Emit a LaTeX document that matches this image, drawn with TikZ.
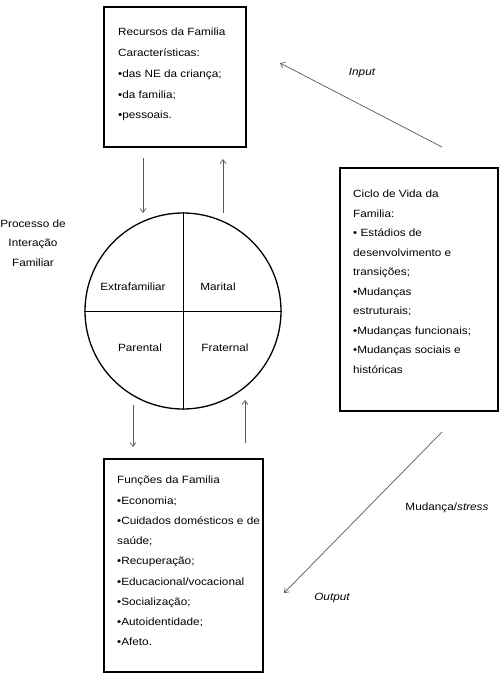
\documentclass[tikz,border=0pt]{standalone}
\usepackage{fontspec}
\setmainfont{Liberation Sans}[FakeStretch=1.12]
\usetikzlibrary{arrows.meta}
\begin{document}
\begin{tikzpicture}[x=1pt,y=-1pt,
  famfont/.style={font=\fontsize{10.5}{#1}\selectfont},
  fambox/.style={draw=black, line width=1.6pt, rectangle, inner sep=0pt},
  boxtext/.style={anchor=north west, inner sep=0pt, align=left},
  flow/.style={draw=black!65, line width=0.7pt, -{Straight Barb[length=4pt,width=6pt]}},
  lbl/.style={font=\fontsize{10.5}{19.5}\selectfont, inner sep=0pt, align=center}]
\useasboundingbox[fill=white] (0,0) rectangle (501,681);

% boxes
\node[fambox, minimum width=142pt, minimum height=140pt] (rec) at (175,77) {};
\node[boxtext, famfont=20.75] (rectext) at (118,28) {Recursos da Familia\\Características:\\•das NE da criança;\\•da familia;\\•pessoais.};

\node[fambox, minimum width=158pt, minimum height=243pt] (ciclo) at (419,289.5) {};
\node[boxtext, famfont=19.5] (ciclotext) at (353,190) {Ciclo de Vida da\\Familia:\\• Estádios de\\desenvolvimento e\\transições;\\•Mudanças\\estruturais;\\•Mudanças funcionais;\\•Mudanças sociais e\\históricas};

\node[fambox, minimum width=159pt, minimum height=213pt] (fun) at (183.5,565.5) {};
\node[boxtext, famfont=20.25] (funtext) at (117,476) {Funções da Familia\\•Economia;\\•Cuidados domésticos e de\\saúde;\\•Recuperação;\\•Educacional/vocacional\\•Socialização;\\•Autoidentidade;\\•Afeto.};

% circle
\node[circle, draw=black, line width=1.3pt, minimum size=196pt, inner sep=0pt] (proc) at (183,311) {};
\draw[line width=0.8pt] (proc.north) -- (proc.south);
\draw[line width=0.8pt] (proc.west) -- (proc.east);
\node[lbl] (extra) at (133,287) {Extrafamiliar};
\node[lbl] (marital) at (218,287) {Marital};
\node[lbl] (parental) at (140,348) {Parental};
\node[lbl] (fraternal) at (225,348) {Fraternal};

\node[lbl] (proctitle) at (33,243) {Processo de\\Interação\\Familiar};

% arrows
\coordinate (a1s) at (143,158); \coordinate (a1e) at (143,213);
\coordinate (a2s) at (223,213); \coordinate (a2e) at (223,159);
\coordinate (a3s) at (133,405); \coordinate (a3e) at (133,447);
\coordinate (a4s) at (245,443); \coordinate (a4e) at (245,400);
\coordinate (ins) at (442,147); \coordinate (ine) at (280,63);
\coordinate (outs) at (442,432); \coordinate (oute) at (284,593);
\draw[flow] (a1s) -- (a1e);
\draw[flow] (a2s) -- (a2e);
\draw[flow] (a3s) -- (a3e);
\draw[flow] (a4s) -- (a4e);
\draw[flow] (ins) -- (ine);
\draw[flow] (outs) -- (oute);

\node[lbl] (input) at (362,73) {\itshape Input};
\node[lbl] (mudanca) at (447,508) {Mudança/\textit{stress}};
\node[lbl] (output) at (332,598) {\itshape Output};
\end{tikzpicture}
\end{document}
